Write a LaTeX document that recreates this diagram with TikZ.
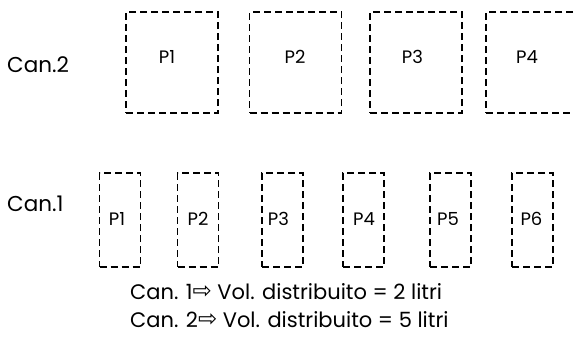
\documentclass[tikz,border=0pt]{standalone}
\usepackage{graphicx}
\usepackage{fontspec}
\setmainfont{Poppins}
\newfontfamily\symfont{DejaVu Sans}
\newcommand{\whitearrow}{\raisebox{0.5pt}{\scalebox{1.35}{\symfont\fontsize{17}{20}\selectfont ⇨}}}
\begin{document}
\begin{tikzpicture}[x=1pt,y=-1pt,
  pbox/.style={draw, dash pattern=on 7pt off 4pt, line width=1.7pt, inner sep=0pt},
  topbox/.style={pbox, minimum width=92pt, minimum height=101pt},
  botbox/.style={pbox, minimum width=41pt, minimum height=94pt},
  plbl/.style={anchor=base, inner sep=0pt, font=\fontsize{18}{21}\selectfont},
  lbl/.style={anchor=base west, inner sep=0pt, font=\fontsize{21.5}{25}\selectfont},
  note/.style={anchor=base west, inner sep=0pt, font=\fontsize{21}{25}\selectfont}]
\useasboundingbox (0,0) rectangle (574,338);
% top row
\node[topbox] (t1) at (172,62.5) {};
\node[topbox] (t2) at (295.5,62.5) {};
\node[topbox] (t3) at (416,62.5) {};
\node[topbox] (t4) at (532,62.5) {};
\node[plbl] (tl1) at (167,63) {P1};
\node[plbl] (tl2) at (295,63) {P2};
\node[plbl] (tl3) at (412.5,63) {P3};
\node[plbl] (tl4) at (527,63) {P4};
% bottom row
\node[botbox] (b1) at (120,220) {};
\node[botbox] (b2) at (198,220) {};
\node[botbox] (b3) at (282.5,220) {};
\node[botbox] (b4) at (363.5,220) {};
\node[botbox] (b5) at (450.5,220) {};
\node[botbox] (b6) at (532.5,220) {};
\node[plbl] (bl1) at (117,225) {P1};
\node[plbl] (bl2) at (198,225) {P2};
\node[plbl] (bl3) at (278.5,225) {P3};
\node[plbl] (bl4) at (364,225) {P4};
\node[plbl] (bl5) at (448,225) {P5};
\node[plbl] (bl6) at (531.5,225) {P6};
% labels
\node[lbl] (c2) at (7,72) {Can.2};
\node[lbl] (c1) at (7,211) {Can.1};
\node[note] (n1) at (130,299) {Can. 1\whitearrow{} Vol. distribuito = 2 litri};
\node[note] (n2) at (130,327) {Can. 2\whitearrow{} Vol. distribuito = 5 litri};
\end{tikzpicture}
\end{document}
